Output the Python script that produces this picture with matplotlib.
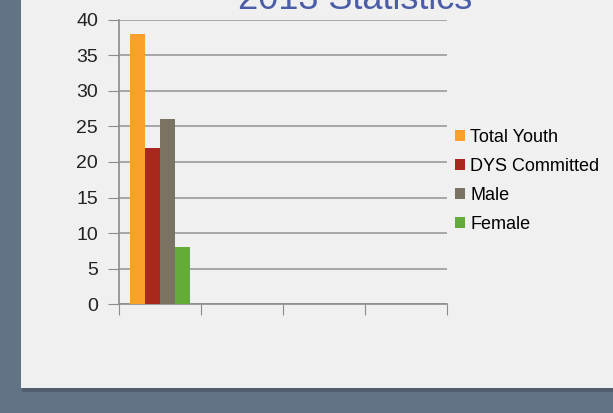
import matplotlib
matplotlib.use('Agg')
import matplotlib.pyplot as plt
from matplotlib.patches import Rectangle
import numpy as np

categories = ['', '', '', '']
series = ['Total Youth', 'DYS Committed', 'Male', 'Female']
values = {
    'Total Youth':   [38, 0, 0, 0],
    'DYS Committed': [22, 0, 0, 0],
    'Male':          [26, 0, 0, 0],
    'Female':        [8, 0, 0, 0],
}
colors = ['#f9a12a', '#a8281e', '#7a7263', '#64ab3c']

plt.rcParams['font.family'] = ['Liberation Sans', 'DejaVu Sans']

fig = plt.figure(figsize=(6.13, 4.13), dpi=100)
fig.patch.set_facecolor('#627386')

# slide panel with a little shadow
fig.patches.append(Rectangle((0.036, 0.052), 0.97, 0.95, transform=fig.transFigure,
                             facecolor='#3f4a57', alpha=0.5, zorder=0))
fig.patches.append(Rectangle((0.0343, 0.0605), 0.97, 0.95, transform=fig.transFigure,
                             facecolor='#f0f0f0', zorder=1))

ax = fig.add_axes([0.1941, 0.2639, 0.5351, 0.6877])
ax.set_zorder(2)
ax.set_facecolor('none')

x = np.arange(len(categories))
w = 0.183
for i, (name, c) in enumerate(zip(series, colors)):
    ax.bar(x + (i - 1.5) * w, values[name], w, color=c, label=name, zorder=3)

ax.set_xlim(-0.5, 3.5)
ax.set_ylim(0, 40)
ax.set_yticks(range(0, 41, 5))
ax.set_xticks(np.arange(-0.5, 4, 1))
ax.set_xticklabels([])
ax.tick_params(axis='y', length=8, color='#8c8c8c', labelsize=14, labelcolor='#222222', pad=7)
ax.tick_params(axis='x', length=8, color='#8c8c8c')
ax.yaxis.grid(True, color='#9a9a9a', linewidth=1.2, zorder=0)
for s in ['top', 'right']:
    ax.spines[s].set_visible(False)
for s in ['left', 'bottom']:
    ax.spines[s].set_color('#8c8c8c')
    ax.spines[s].set_linewidth(1.2)

fig.text(0.58, 0.978, '2013 Statistics', color='#4a5da6', fontsize=26,
         ha='center', va='baseline', zorder=3)

leg = fig.legend(loc='upper left', bbox_to_anchor=(0.73, 0.705), frameon=False,
                 fontsize=13, handlelength=0.55, handleheight=0.55, handletextpad=0.3,
                 labelspacing=0.66, borderaxespad=0)
leg.set_zorder(3)

fig.savefig('out.png', dpi=100, facecolor=fig.get_facecolor())
